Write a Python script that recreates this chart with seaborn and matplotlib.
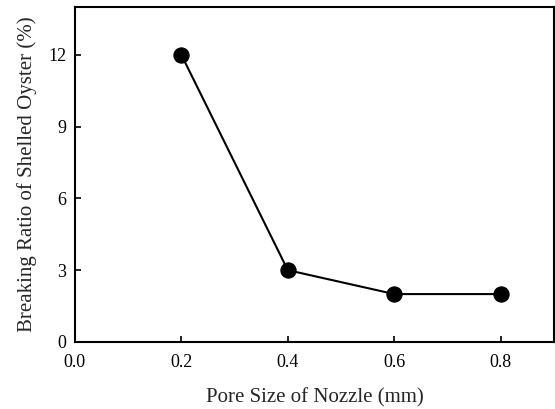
import matplotlib
matplotlib.use("Agg")
import matplotlib.pyplot as plt
import seaborn as sns
import pandas as pd

pore_size = [0.2, 0.4, 0.6, 0.8]
breaking_ratio = [12, 3, 2, 2]
x_ticks = [0.0, 0.2, 0.4, 0.6, 0.8]
y_ticks = [0, 3, 6, 9, 12]

sns.set_theme(style="ticks")
plt.rcParams['font.family'] = ['Liberation Serif', 'DejaVu Serif']

df = pd.DataFrame({"x": pore_size, "y": breaking_ratio})

fig = plt.figure(figsize=(5.55, 4.09), dpi=100)
ax = fig.add_axes([0.135, 0.164, 0.863, 0.819])
sns.lineplot(data=df, x="x", y="y", ax=ax, color="black", linewidth=1.5,
             marker="o", markersize=11, markerfacecolor="black",
             markeredgecolor="black")
ax.set_xlim(0, 0.9)
ax.set_ylim(0, 14)
ax.set_xticks(x_ticks)
ax.set_xticklabels([f"{v:.1f}" for v in x_ticks])
ax.set_yticks(y_ticks)
ax.tick_params(direction="in", length=4, width=1.2, labelsize=13, colors="black")
ax.tick_params(axis="x", pad=9)
ax.tick_params(axis="y", pad=6)
for s in ax.spines.values():
    s.set_linewidth(1.5)
    s.set_color("black")
ax.set_xlabel("Pore Size of Nozzle (mm)", fontsize=15, labelpad=12)
ax.set_ylabel("Breaking Ratio of Shelled Oyster (%)", fontsize=15, labelpad=8)
fig.savefig("out.png", dpi=100)
